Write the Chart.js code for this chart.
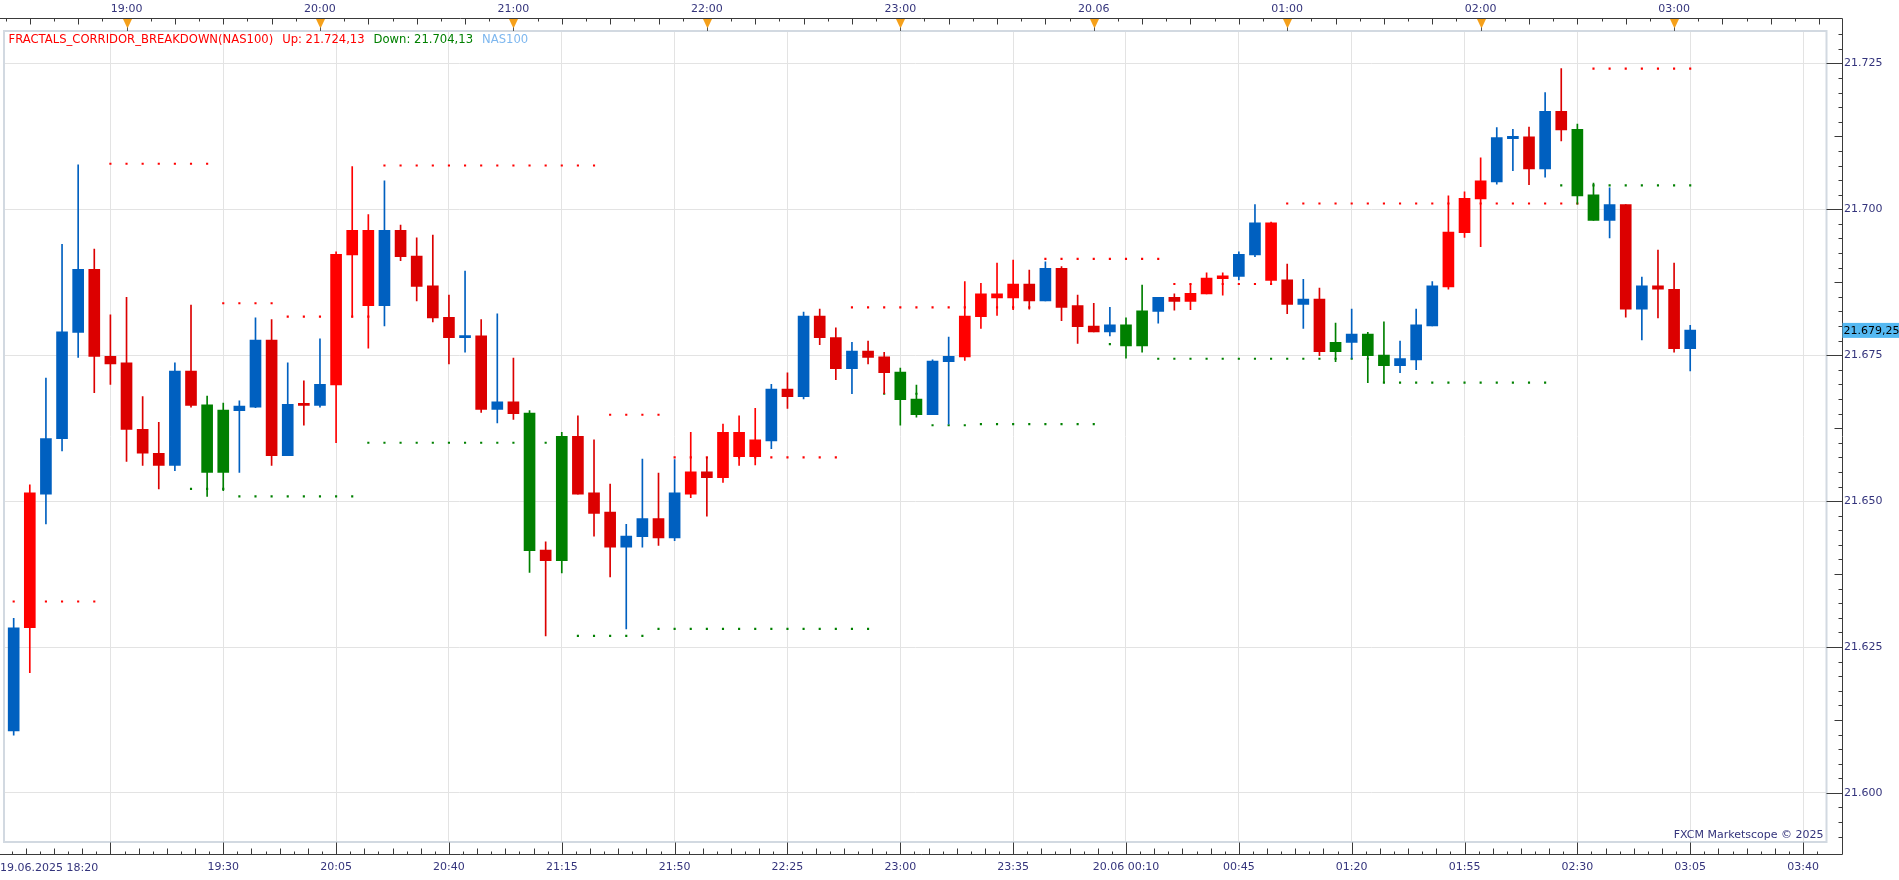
<!DOCTYPE html>
<html>
<head>
<meta charset="utf-8">
<title>NAS100 m5 - Fractals corridor breakdown</title>
<script src="https://cdn.jsdelivr.net/npm/chart.js@4.4.1/dist/chart.umd.min.js"></script>
<style>
    html, body { margin: 0; padding: 0; background: #ffffff; }
</style>
</head>
<body>
<canvas id="candleChart" width="1899" height="880"></canvas>
<script>
// NAS100, 5 min bars, 19.06.2025 18:25 .. 20.06.2025 03:05
const opens = [
    21.6106, 21.6283, 21.6512, 21.6607, 21.6789, 21.6897, 21.6748, 21.6737, 21.6623, 21.6582,
    21.6561, 21.6723, 21.6665, 21.6549, 21.6655, 21.6661, 21.6776, 21.6578, 21.6667, 21.6664,
    21.6699, 21.6922, 21.6964, 21.6835, 21.6964, 21.6920, 21.6869, 21.6815, 21.6780, 21.6783,
    21.6657, 21.6670, 21.6651, 21.6416, 21.6398, 21.6611, 21.6514, 21.6481, 21.6421, 21.6439,
    21.6470, 21.6437, 21.6512, 21.6550, 21.6540, 21.6618, 21.6576, 21.6603, 21.6692, 21.6679,
    21.6817, 21.6780, 21.6727, 21.6757, 21.6747, 21.6721, 21.6675, 21.6648, 21.6739, 21.6747,
    21.6816, 21.6848, 21.6848, 21.6872, 21.6843, 21.6899, 21.6835, 21.6800, 21.6790, 21.6802,
    21.6766, 21.6825, 21.6849, 21.6842, 21.6855, 21.6881, 21.6885, 21.6922, 21.6977, 21.6879,
    21.6837, 21.6846, 21.6756, 21.6772, 21.6786, 21.6750, 21.6732, 21.6742, 21.6800, 21.6867,
    21.6960, 21.7018, 21.7047, 21.7121, 21.7124, 21.7069, 21.7168, 21.7137, 21.7025, 21.6981,
    21.7008, 21.6829, 21.6869, 21.6863, 21.6761
];
const highs = [
    21.6299, 21.6528, 21.6711, 21.6940, 21.7076, 21.6932, 21.6819, 21.6849, 21.6679, 21.6635,
    21.6737, 21.6836, 21.6680, 21.6668, 21.6672, 21.6814, 21.6811, 21.6737, 21.6706, 21.6778,
    21.6927, 21.7073, 21.6991, 21.7049, 21.6973, 21.6951, 21.6956, 21.6853, 21.6894, 21.6811,
    21.6821, 21.6745, 21.6655, 21.6430, 21.6618, 21.6646, 21.6605, 21.6529, 21.6460, 21.6572,
    21.6548, 21.6571, 21.6618, 21.6575, 21.6632, 21.6646, 21.6659, 21.6700, 21.6720, 21.6824,
    21.6829, 21.6797, 21.6772, 21.6774, 21.6755, 21.6728, 21.6699, 21.6742, 21.6781, 21.6876,
    21.6873, 21.6908, 21.6913, 21.6896, 21.6910, 21.6902, 21.6853, 21.6839, 21.6832, 21.6814,
    21.6870, 21.6849, 21.6855, 21.6872, 21.6891, 21.6891, 21.6927, 21.7008, 21.6978, 21.6906,
    21.6880, 21.6865, 21.6805, 21.6829, 21.6789, 21.6807, 21.6774, 21.6829, 21.6876, 21.7023,
    21.7030, 21.7088, 21.7140, 21.7137, 21.7141, 21.7200, 21.7241, 21.7146, 21.7045, 21.7037,
    21.7008, 21.6884, 21.6930, 21.6908, 21.6801
];
const lows = [
    21.6099, 21.6206, 21.6461, 21.6586, 21.6746, 21.6686, 21.6700, 21.6568, 21.6561, 21.6521,
    21.6552, 21.6661, 21.6508, 21.6518, 21.6549, 21.6660, 21.6561, 21.6578, 21.6630, 21.6661,
    21.6600, 21.6815, 21.6762, 21.6800, 21.6912, 21.6843, 21.6807, 21.6735, 21.6755, 21.6652,
    21.6634, 21.6640, 21.6378, 21.6269, 21.6377, 21.6512, 21.6440, 21.6370, 21.6281, 21.6421,
    21.6424, 21.6432, 21.6506, 21.6474, 21.6532, 21.6561, 21.6562, 21.6590, 21.6659, 21.6675,
    21.6768, 21.6708, 21.6684, 21.6735, 21.6684, 21.6630, 21.6644, 21.6648, 21.6632, 21.6741,
    21.6796, 21.6818, 21.6828, 21.6829, 21.6843, 21.6809, 21.6770, 21.6790, 21.6783, 21.6745,
    21.6755, 21.6805, 21.6827, 21.6828, 21.6855, 21.6853, 21.6879, 21.6919, 21.6871, 21.6821,
    21.6796, 21.6749, 21.6739, 21.6745, 21.6703, 21.6703, 21.6720, 21.6725, 21.6800, 21.6863,
    21.6952, 21.6936, 21.7043, 21.7066, 21.7042, 21.7055, 21.7117, 21.7009, 21.6981, 21.6951,
    21.6815, 21.6776, 21.6814, 21.6755, 21.6723
];
const closes = [
    21.6283, 21.6514, 21.6607, 21.6790, 21.6897, 21.6748, 21.6735, 21.6623, 21.6582, 21.6561,
    21.6723, 21.6664, 21.6549, 21.6656, 21.6663, 21.6776, 21.6578, 21.6666, 21.6664, 21.6700,
    21.6923, 21.6964, 21.6835, 21.6964, 21.6919, 21.6868, 21.6814, 21.6780, 21.6783, 21.6657,
    21.6670, 21.6650, 21.6415, 21.6398, 21.6611, 21.6512, 21.6479, 21.6421, 21.6440, 21.6470,
    21.6437, 21.6514, 21.6550, 21.6540, 21.6618, 21.6576, 21.6605, 21.6692, 21.6679, 21.6817,
    21.6780, 21.6727, 21.6757, 21.6746, 21.6720, 21.6674, 21.6648, 21.6740, 21.6748, 21.6817,
    21.6855, 21.6855, 21.6872, 21.6843, 21.6899, 21.6832, 21.6799, 21.6790, 21.6802, 21.6766,
    21.6826, 21.6849, 21.6842, 21.6856, 21.6882, 21.6886, 21.6923, 21.6977, 21.6878, 21.6837,
    21.6846, 21.6756, 21.6772, 21.6786, 21.6749, 21.6732, 21.6744, 21.6802, 21.6869, 21.6961,
    21.7019, 21.7049, 21.7123, 21.7125, 21.7069, 21.7168, 21.7136, 21.7023, 21.6981, 21.7008,
    21.6829, 21.6869, 21.6863, 21.6761, 21.6793
];
// b = blue, r = red, d = dark red, g = green (indicator colouring)
const candleColors = [
    "b","r","b","b","b","d","d","d","d","d",
    "b","d","g","g","b","b","d","b","d","b",
    "r","r","r","b","d","d","d","d","b","d",
    "b","d","g","d","g","d","d","d","b","b",
    "d","b","r","d","r","r","r","b","d","b",
    "d","d","b","d","d","g","g","b","b","r",
    "r","r","r","d","b","d","d","d","b","g",
    "g","b","d","r","r","r","b","b","r","d",
    "b","d","g","b","g","g","b","b","b","r",
    "r","r","b","b","d","b","d","g","g","b",
    "d","b","d","d","b"
];
// fractal corridor: upper (red) and lower (green) levels per bar
const upFractal = [
    21.6328, 21.6328, 21.6328, 21.6328, 21.6328, 21.6328, 21.7078, 21.7078, 21.7078, 21.7078,
    21.7078, 21.7078, 21.7078, 21.6839, 21.6839, 21.6839, 21.6839, 21.6816, 21.6816, 21.6816,
    21.6816, 21.6816, 21.6816, 21.7075, 21.7075, 21.7075, 21.7075, 21.7075, 21.7075, 21.7075,
    21.7075, 21.7075, 21.7075, 21.7075, 21.7075, 21.7075, 21.7075, 21.6648, 21.6648, 21.6648,
    21.6648, 21.6575, 21.6575, 21.6575, 21.6575, 21.6575, 21.6575, 21.6575, 21.6575, 21.6575,
    21.6575, 21.6575, 21.6832, 21.6832, 21.6832, 21.6832, 21.6832, 21.6832, 21.6832, 21.6832,
    21.6832, 21.6832, 21.6832, 21.6832, 21.6915, 21.6915, 21.6915, 21.6915, 21.6915, 21.6915,
    21.6915, 21.6915, 21.6872, 21.6872, 21.6872, 21.6872, 21.6872, 21.6872, 21.6872, 21.7010,
    21.7010, 21.7010, 21.7010, 21.7010, 21.7010, 21.7010, 21.7010, 21.7010, 21.7010, 21.7010,
    21.7010, 21.7010, 21.7010, 21.7010, 21.7010, 21.7010, 21.7010, 21.7010, 21.7241, 21.7241,
    21.7241, 21.7241, 21.7241, 21.7241, 21.7241
];
const downFractal = [
    null, null, null, null, null, null, null, null, null, null,
    null, 21.6521, 21.6521, 21.6521, 21.6508, 21.6508, 21.6508, 21.6508, 21.6508, 21.6508,
    21.6508, 21.6508, 21.6600, 21.6600, 21.6600, 21.6600, 21.6600, 21.6600, 21.6600, 21.6600,
    21.6600, 21.6600, 21.6600, 21.6600, null, 21.6269, 21.6269, 21.6269, 21.6269, 21.6269,
    21.6281, 21.6281, 21.6281, 21.6281, 21.6281, 21.6281, 21.6281, 21.6281, 21.6281, 21.6281,
    21.6281, 21.6281, 21.6281, 21.6281, 21.6684, 21.6684, 21.6684, 21.6630, 21.6630, 21.6630,
    21.6632, 21.6632, 21.6632, 21.6632, 21.6632, 21.6632, 21.6632, 21.6632, 21.6769, 21.6769,
    21.6769, 21.6744, 21.6744, 21.6744, 21.6744, 21.6744, 21.6744, 21.6744, 21.6744, 21.6744,
    21.6744, 21.6744, 21.6744, 21.6744, 21.6744, 21.6703, 21.6703, 21.6703, 21.6703, 21.6703,
    21.6703, 21.6703, 21.6703, 21.6703, 21.6703, 21.6703, 21.7041, 21.7041, 21.7041, 21.7041,
    21.7041, 21.7041, 21.7041, 21.7041, 21.7041
];

const bottomTickIdx = [6, 13, 20, 27, 34, 41, 48, 55, 62, 69, 76, 83, 90, 97, 104, 111];
const bottomLabels = ["", "19:30", "20:05", "20:40", "21:15", "21:50", "22:25", "23:00",
    "23:35", "20.06 00:10", "00:45", "01:20", "01:55", "02:30", "03:05", "03:40"];
const topTickIdx = [7, 19, 31, 43, 55, 67, 79, 91, 103];
const topLabels = ["19:00", "20:00", "21:00", "22:00", "23:00", "20.06", "01:00", "02:00", "03:00"];
const priceTicks = [21.600, 21.625, 21.650, 21.675, 21.700, 21.725];
const lastPrice = 21.67925;
const startLabel = "19.06.2025 18:20";

const colorMap = { b: "#0060c0", r: "#ff0000", d: "#dc0000", g: "#008000" };
const labelColor = "#34347c";

document.addEventListener("DOMContentLoaded", () => {
    Chart.defaults.font.family = "'DejaVu Sans', sans-serif";
    Chart.defaults.font.size = 11;

    const idx = opens.map((_, i) => i);
    const barColors = candleColors.map(c => colorMap[c]);

    // price like 21.679,25
    function priceLabel(v) {
        const s = v.toFixed(5);
        return s.slice(0, -2) + "," + s.slice(-2);
    }

    // axis frame, minor ticks, markers and captions
    const decorPlugin = {
        id: "decor",
        afterDraw(chart) {
            const ctx = chart.ctx;
            const area = chart.chartArea;
            const xs = chart.scales.x;
            const ys = chart.scales.y;
            const axisTop = 18.5, axisBottom = 854.5, axisRight = 1842.5;

            ctx.save();

            // plot frame
            ctx.strokeStyle = "#d2d9e1";
            ctx.lineWidth = 2;
            ctx.strokeRect(area.left, area.top, area.right - area.left, area.bottom - area.top);

            ctx.strokeStyle = "#3a3a3a";
            ctx.lineWidth = 1;
            ctx.beginPath();
            ctx.moveTo(0, axisTop);
            ctx.lineTo(axisRight, axisTop);
            ctx.lineTo(axisRight, axisBottom);
            ctx.lineTo(0, axisBottom);

            // top ticks, every 7.5 min
            for (let k = -6; k <= 80; k++) {
                const v = topTickIdx[0] + 1.5 * k;
                if (v < xs.min || v > xs.max || k % 8 === 0) continue;
                const px = Math.round(xs.getPixelForValue(v)) + 0.5;
                ctx.moveTo(px, axisTop);
                ctx.lineTo(px, axisTop + (k % 2 === 0 ? 6 : 3));
            }

            // bottom ticks
            for (let k = -8; k <= 130; k++) {
                const v = bottomTickIdx[0] + 0.875 * k;
                if (v < xs.min || v > xs.max) continue;
                const px = Math.round(xs.getPixelForValue(v)) + 0.5;
                const len = k % 8 === 0 ? 12 : (k % 2 === 0 ? 6 : 3);
                ctx.moveTo(px, axisBottom);
                ctx.lineTo(px, axisBottom - len);
            }

            // right ticks, every 0.0025
            const n0 = Math.ceil(ys.min / 0.0025), n1 = Math.floor(ys.max / 0.0025);
            for (let n = n0; n <= n1; n++) {
                const py = Math.round(ys.getPixelForValue(n * 0.0025)) + 0.5;
                const len = n % 10 === 0 ? axisRight - area.right : (n % 5 === 0 ? 8 : 4);
                ctx.moveTo(axisRight, py);
                ctx.lineTo(axisRight - len, py);
            }
            ctx.stroke();

            // hour markers on the top axis
            topTickIdx.forEach(v => {
                const px = Math.round(xs.getPixelForValue(v)) + 0.5;
                ctx.fillStyle = "#f5a01a";
                ctx.beginPath();
                ctx.moveTo(px - 4.5, axisTop + 0.5);
                ctx.lineTo(px + 4.5, axisTop + 0.5);
                ctx.lineTo(px, axisTop + 10);
                ctx.closePath();
                ctx.fill();
                ctx.strokeStyle = "#555555";
                ctx.beginPath();
                ctx.moveTo(px, axisTop + 9);
                ctx.lineTo(px, area.top);
                ctx.stroke();
            });

            // last price box
            const yLast = ys.getPixelForValue(lastPrice);
            ctx.fillStyle = "#55b9f2";
            ctx.fillRect(axisRight, yLast - 7.5, 1899 - axisRight, 15);
            ctx.fillStyle = "#000000";
            ctx.font = "11px 'DejaVu Sans'";
            ctx.textBaseline = "middle";
            ctx.textAlign = "left";
            ctx.fillText(priceLabel(lastPrice), axisRight + 1, yLast + 0.5);

            // start date on the time axis
            ctx.fillStyle = labelColor;
            ctx.fillText(startLabel, 0, 868);

            // watermark
            ctx.textAlign = "right";
            ctx.fillText("FXCM Marketscope \u00A9 2025", area.right - 3, 835);

            // indicator legend
            ctx.textAlign = "left";
            ctx.font = "11.6px 'DejaVu Sans'";
            const parts = [
                ["FRACTALS_CORRIDOR_BREAKDOWN(NAS100)", "#ff0000"],
                ["Up: 21.724,13", "#ff0000"],
                ["Down: 21.704,13", "#008000"],
                ["NAS100", "#7db7ef"]
            ];
            let x = 8.5;
            parts.forEach(([text, color]) => {
                ctx.fillStyle = color;
                ctx.fillText(text, x, 39.5);
                x += ctx.measureText(text).width + 9;
            });

            ctx.restore();
        }
    };

    const ctx = document.getElementById("candleChart").getContext("2d");

    new Chart(ctx, {
        type: "bar",
        data: {
            datasets: [
                {
                    label: "Body",
                    data: idx.map(i => ({ x: i, y: [opens[i], closes[i]] })),
                    backgroundColor: barColors,
                    borderWidth: 0,
                    barThickness: 11,
                    minBarLength: 2,
                    grouped: false,
                    xAxisID: "x",
                    yAxisID: "y",
                    order: 1
                },
                {
                    label: "Wick",
                    data: idx.map(i => ({ x: i, y: [lows[i], highs[i]] })),
                    backgroundColor: barColors,
                    borderWidth: 0,
                    barThickness: 1,
                    grouped: false,
                    xAxisID: "x",
                    yAxisID: "y",
                    order: 2
                },
                {
                    type: "line",
                    label: "Up",
                    data: idx.map(i => ({ x: i, y: upFractal[i] })),
                    showLine: false,
                    pointStyle: "rect",
                    pointRadius: 1.5,
                    pointBorderWidth: 0,
                    pointBackgroundColor: "#ff0000",
                    xAxisID: "x",
                    yAxisID: "y",
                    order: 3
                },
                {
                    type: "line",
                    label: "Down",
                    data: idx.map(i => ({ x: i, y: downFractal[i] })),
                    showLine: false,
                    pointStyle: "rect",
                    pointRadius: 1.5,
                    pointBorderWidth: 0,
                    pointBackgroundColor: "#008000",
                    xAxisID: "x",
                    yAxisID: "y",
                    order: 3
                }
            ]
        },
        options: {
            responsive: false,
            animation: false,
            layout: { padding: { left: 1, right: 0, top: 0, bottom: 0 } },
            plugins: {
                legend: { display: false },
                tooltip: { enabled: false }
            },
            scales: {
                x: {
                    type: "linear",
                    position: "bottom",
                    min: -0.6007,
                    max: 112.4543,
                    offset: false,
                    afterBuildTicks: axis => {
                        axis.ticks = bottomTickIdx.map(v => ({ value: v }));
                    },
                    afterFit: axis => { axis.height = 38; },
                    ticks: {
                        autoSkip: false,
                        maxRotation: 0,
                        padding: 19,
                        color: labelColor,
                        callback: (value, index) => bottomLabels[index]
                    },
                    grid: { color: "#e3e3e3", offset: false, drawTicks: false },
                    border: { display: false }
                },
                x2: {
                    type: "linear",
                    position: "top",
                    min: -0.6007,
                    max: 112.4543,
                    offset: false,
                    afterBuildTicks: axis => {
                        axis.ticks = topTickIdx.map(v => ({ value: v }));
                    },
                    afterFit: axis => { axis.height = 31; },
                    ticks: {
                        autoSkip: false,
                        maxRotation: 0,
                        padding: 15,
                        color: labelColor,
                        callback: (value, index) => topLabels[index]
                    },
                    grid: { display: false, drawTicks: false },
                    border: { display: false }
                },
                y: {
                    type: "linear",
                    position: "right",
                    min: 21.591587,
                    max: 21.730552,
                    afterBuildTicks: axis => {
                        axis.ticks = priceTicks.map(v => ({ value: v }));
                    },
                    afterFit: axis => { axis.width = 72.5; },
                    ticks: {
                        padding: 17.5,
                        color: labelColor,
                        callback: value => value.toFixed(3)
                    },
                    grid: { color: "#e3e3e3", drawTicks: false },
                    border: { display: false }
                }
            }
        },
        plugins: [decorPlugin]
    });
});
</script>
</body>
</html>
